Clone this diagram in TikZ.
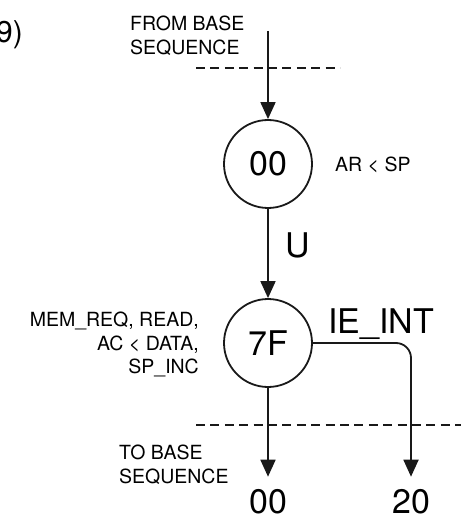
\documentclass[tikz,border=0pt]{standalone}
\usepackage{fontspec}
\setmainfont{TeX Gyre Heros}
\usetikzlibrary{arrows.meta}
\begin{document}
\begin{tikzpicture}[x=1pt,y=-1pt,
  conn/.style={line width=1.8pt,draw=black!90},
  arr/.style={conn,-{Triangle[length=17pt,width=15pt]}},
  state/.style={circle,draw=black!90,line width=1.8pt,minimum size=88pt,inner sep=0pt,font=\fontsize{34}{40}\selectfont},
  small/.style={inner sep=0pt,font=\fontsize{19.5}{23.5}\selectfont},
  big/.style={inner sep=0pt,font=\fontsize{34}{40}\selectfont},
  divider/.style={line width=1.6pt,draw=black!90,dash pattern=on 9pt off 5.4pt}]
\useasboundingbox (0,0) rectangle (461,521);
\node[inner sep=0pt,font=\fontsize{30}{36}\selectfont,anchor=base east] (fig) at (23,43) {9)};
\node[small,anchor=north west,align=left] (from) at (130,16) {FROM BASE\\SEQUENCE};
\coordinate (start) at (268,31);
\node[state] (s00) at (268,164) {00};
\node[state] (s7F) at (268,343) {7F};
\node[small,anchor=base west] (ar) at (335,172) {AR < SP};
\node[big,anchor=base west] (u) at (285,257) {U};
\node[big,anchor=base west] (ie) at (328,333) {IE\_INT};
\node[small,anchor=north east,align=right] (act) at (199,312) {MEM\_REQ, READ,\\AC < DATA,\\SP\_INC};
\node[small,anchor=north west,align=left] (to) at (119,445) {TO BASE\\SEQUENCE};
\node[big,anchor=base] (e00) at (268,513) {00};
\node[big,anchor=base] (e20) at (411,513) {20};
\coordinate (dl1) at (196,68);
\coordinate (dr1) at (340,68);
\coordinate (dl2) at (196,425);
\coordinate (dr2) at (461,425);
\coordinate (corner) at (411,343);
\draw[divider] (dl1) -- (dr1);
\draw[divider] (dl2) -- (dr2);
\draw[arr] (start) -- (s00.north);
\draw[arr] (s00.south) -- (s7F.north);
\draw[arr,shorten >=12pt] (s7F.south) -- (e00.north);
\draw[arr,rounded corners=15pt,shorten >=12pt] (s7F.east) -- (corner) -- (e20.north);
\end{tikzpicture}
\end{document}
